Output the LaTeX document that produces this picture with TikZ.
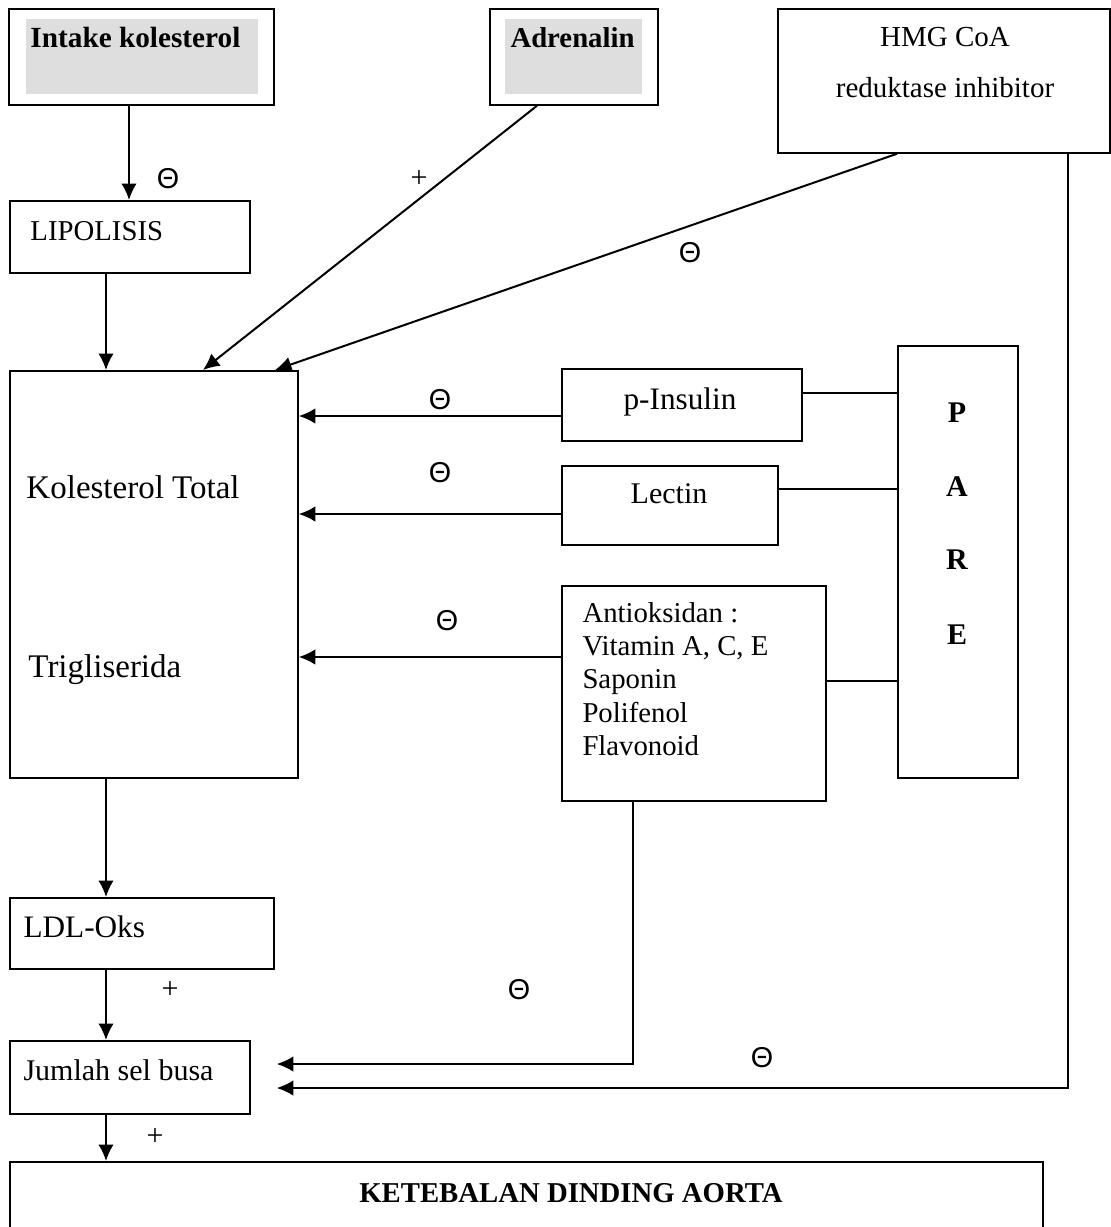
\documentclass[tikz,border=0pt]{standalone}
\usepackage{fontspec}
\setmainfont{Liberation Serif}
\newfontfamily\sansf{Liberation Sans}
\usetikzlibrary{arrows.meta}
\newcommand{\mybox}[5]{\node[box, minimum width={(#4-#2)*0.4pt}, minimum height={(#5-#3)*0.4pt}] (#1) at (#2,#3) {};}
\newcommand{\fs}[1]{\fontsize{#1}{#1}\selectfont}
\begin{document}
\begin{tikzpicture}[x=0.4pt,y=-0.4pt,
  box/.style={draw, line width=0.7pt, inner sep=0pt, anchor=north west},
  arr/.style={line width=0.8pt, -{Latex[length=6.6pt,width=6.2pt]}},
  ln/.style={line width=0.7pt},
  lbl/.style={inner sep=0pt, anchor=base west},
  ctr/.style={inner sep=0pt, anchor=base},
  sgn/.style={inner sep=0pt, font=\sansf\fs{11.5}},
  pls/.style={inner sep=0pt, font=\fs{12}},
  shade/.style={fill=black!13}
]
\useasboundingbox (0,0) rectangle (1111,1227);
\clip (0,0) rectangle (1111,1227);

% gray backgrounds
\fill[shade] (26,19) rectangle (258,94);
\fill[shade] (505,19) rectangle (642,94);

% boxes
\mybox{intake}{8}{8}{273}{104}
\mybox{adr}{489}{8}{657}{104}
\mybox{hmg}{777}{8}{1109}{152}
\mybox{lipo}{9}{200}{249}{272}
\mybox{kt}{9}{370}{297}{777}
\mybox{pins}{561}{368}{801}{440}
\mybox{lectin}{561}{465}{777}{544}
\mybox{antiok}{561}{585}{825}{800}
\mybox{pare}{897}{345}{1017}{777}
\mybox{ldl}{9}{897}{273}{968}
\mybox{jumlah}{9}{1040}{249}{1113}
\mybox{ket}{9}{1161}{1042}{1262}

% texts
\node[lbl, font=\bfseries\fs{11.7}] (tintake) at (30,47) {Intake kolesterol};
\node[lbl, font=\bfseries\fs{11.5}] (tadr) at (510,47) {Adrenalin};
\node[ctr, font=\fs{11.6}] (thmg1) at (945,46) {HMG CoA};
\node[ctr, font=\fs{11.6}] (thmg2) at (945,97) {reduktase inhibitor};
\node[lbl, font=\fs{11.5}] (tlipo) at (30,240) {LIPOLISIS};
\node[lbl, font=\fs{13.2}] (tkt1) at (26,498) {Kolesterol Total};
\node[lbl, font=\fs{13.2}] (tkt2) at (28,677) {Trigliserida};
\node[ctr, font=\fs{12.5}] (tpins) at (680,409) {p-Insulin};
\node[ctr, font=\fs{12}] (tlectin) at (669,503) {Lectin};
\node[lbl, font=\fs{11.5}] (ta1) at (582,622) {Antioksidan :};
\node[lbl, font=\fs{11.5}] (ta2) at (582,655) {Vitamin A, C, E};
\node[lbl, font=\fs{11.5}] (ta3) at (582,688) {Saponin};
\node[lbl, font=\fs{11.5}] (ta4) at (582,722) {Polifenol};
\node[lbl, font=\fs{11.5}] (ta5) at (582,755) {Flavonoid};
\node[ctr, font=\bfseries\fs{12}] (tp) at (957,422) {P};
\node[ctr, font=\bfseries\fs{12}] (ta) at (957,496) {A};
\node[ctr, font=\bfseries\fs{12}] (tr) at (957,569) {R};
\node[ctr, font=\bfseries\fs{12}] (te) at (957,644) {E};
\node[lbl, font=\fs{12.5}] (tldl) at (23,937) {LDL-Oks};
\node[lbl, font=\fs{12}] (tjum) at (23,1080) {Jumlah sel busa};
\node[ctr, font=\bfseries\fs{11.5}] (tket) at (571,1202) {KETEBALAN DINDING AORTA};

% connectors
\draw[arr] (intake.south -| 129,0) -- (lipo.north -| 129,0);
\draw[arr] (lipo.south -| 106,0) -- (kt.north -| 106,0);
\draw[arr] (adr.south -| 537,0) -- (kt.north -| 203,0);
\draw[arr] (hmg.south -| 897,0) -- (kt.north -| 275,0);
\draw[arr] (pins.west |- 0,416) -- (kt.east |- 0,416);
\draw[arr] (lectin.west |- 0,514) -- (kt.east |- 0,514);
\draw[arr] (antiok.west |- 0,657) -- (kt.east |- 0,657);
\draw[ln] (pins.east |- 0,393) -- (pare.west |- 0,393);
\draw[ln] (lectin.east |- 0,489) -- (pare.west |- 0,489);
\draw[ln] (antiok.east |- 0,681) -- (pare.west |- 0,681);
\draw[arr] (kt.south -| 106,0) -- (ldl.north -| 106,0);
\draw[arr] (ldl.south -| 106,0) -- (jumlah.north -| 106,0);
\draw[arr] (jumlah.south -| 106,0) -- (ket.north -| 106,0);
\draw[arr, shorten >=10.4pt] (antiok.south -| 633,0) |- (jumlah.east |- 0,1064);
\draw[arr, shorten >=10.4pt] (hmg.south -| 1068,0) |- (jumlah.east |- 0,1088);

% signs
\node[sgn] (s1) at (168,179) {Θ};
\node[sgn] (s2) at (690,253) {Θ};
\node[sgn] (s3) at (440,400) {Θ};
\node[sgn] (s4) at (440,473) {Θ};
\node[sgn] (s5) at (447,621) {Θ};
\node[sgn] (s6) at (519,990) {Θ};
\node[sgn] (s7) at (762,1058) {Θ};
\node[pls] (p1) at (419,179) {+};
\node[pls] (p2) at (170,990) {+};
\node[pls] (p3) at (155,1137) {+};
\end{tikzpicture}
\end{document}
